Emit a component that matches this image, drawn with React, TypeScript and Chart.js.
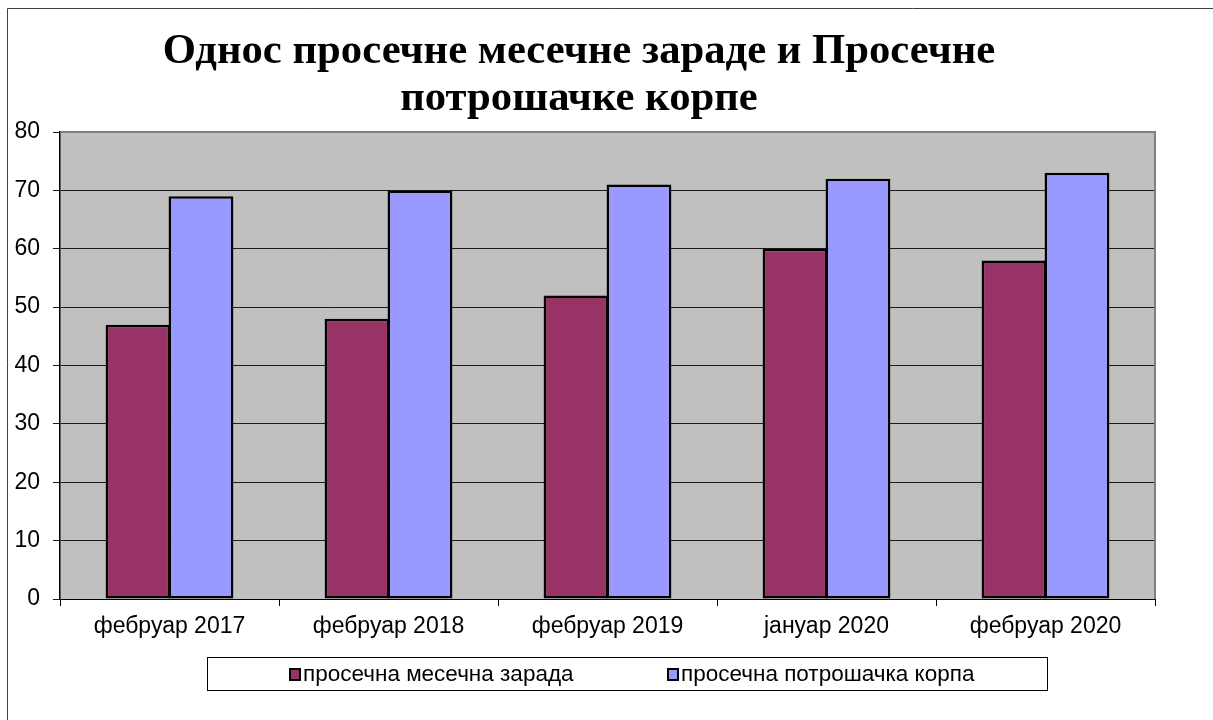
import React, { useEffect, useRef } from "react";
import { Chart, registerables } from "chart.js";

Chart.register(...registerables);

const categories = ["фебруар 2017", "фебруар 2018", "фебруар 2019", "јануар 2020", "фебруар 2020"];
const salary = [47, 48, 52, 60, 58];
const basket = [69, 70, 71, 72, 73];
const seriesLabels = ["просечна месечна зарада", "просечна потрошачка корпа"];
const titleLines = ["Однос просечне месечне зараде и Просечне", "потрошачке корпе"];
const yTicks = [0, 10, 20, 30, 40, 50, 60, 70, 80];

const FONT = "'Liberation Sans', Arial, sans-serif";

const decorPlugin = {
  id: "decor",
  beforeDraw(chart: any) {
    const { ctx, chartArea: a } = chart;
    ctx.save();
    ctx.fillStyle = "#ffffff";
    ctx.fillRect(0, 0, chart.width, chart.height);
    ctx.strokeStyle = "#404040";
    ctx.lineWidth = 1;
    ctx.beginPath();
    ctx.moveTo(7.5, chart.height + 5);
    ctx.lineTo(7.5, 8.5);
    ctx.lineTo(chart.width + 5, 8.5);
    ctx.stroke();
    ctx.fillStyle = "#C0C0C0";
    ctx.fillRect(a.left, a.top, a.right - a.left, a.bottom - a.top);
    ctx.restore();
  },
  afterDatasetsDraw(chart: any) {
    const { ctx, chartArea: a } = chart;
    ctx.save();
    ctx.strokeStyle = "#808080";
    ctx.lineWidth = 2;
    ctx.beginPath();
    ctx.moveTo(a.left, a.top);
    ctx.lineTo(a.right, a.top);
    ctx.lineTo(a.right, a.bottom);
    ctx.stroke();
    ctx.restore();
  },
  afterDraw(chart: any) {
    const { ctx } = chart;
    ctx.save();
    ctx.fillStyle = "#000";
    ctx.font = "bold 42.7px 'Liberation Serif', 'Times New Roman', serif";
    ctx.textAlign = "center";
    ctx.textBaseline = "alphabetic";
    ctx.fillText(titleLines[0], 579, 63);
    ctx.fillText(titleLines[1], 579, 110);
    const lx = 207, ly = 657, lw = 840, lh = 33;
    ctx.strokeStyle = "#000";
    ctx.lineWidth = 1;
    ctx.strokeRect(lx + 0.5, ly + 0.5, lw, lh);
    ctx.font = "22.5px " + FONT;
    ctx.textAlign = "left";
    ctx.textBaseline = "middle";
    const items = [
      { x: 290, color: "#993366", label: chart.data.datasets[0].label },
      { x: 668, color: "#9999FF", label: chart.data.datasets[1].label },
    ];
    const cy = ly + lh / 2 + 1;
    items.forEach((it) => {
      ctx.fillStyle = it.color;
      ctx.fillRect(it.x, cy - 5.5, 10, 11);
      ctx.strokeStyle = "#000";
      ctx.lineWidth = 2;
      ctx.strokeRect(it.x, cy - 5.5, 10, 11);
      ctx.fillStyle = "#000";
      ctx.fillText(it.label, it.x + 13, cy);
    });
    ctx.restore();
  },
};

export default function App() {
  const ref = useRef<HTMLCanvasElement>(null);
  useEffect(() => {
    if (!ref.current) return;
    const chart = new Chart(ref.current, {
      type: "bar",
      data: {
        labels: categories,
        datasets: [
          {
            label: seriesLabels[0],
            data: salary,
            backgroundColor: "#993366",
            borderColor: "#000",
            borderWidth: 2.5,
            borderSkipped: false,
            categoryPercentage: 0.575,
            barPercentage: 1.03,
          },
          {
            label: seriesLabels[1],
            data: basket,
            backgroundColor: "#9999FF",
            borderColor: "#000",
            borderWidth: 2.5,
            borderSkipped: false,
            categoryPercentage: 0.575,
            barPercentage: 1.03,
          },
        ],
      },
      options: {
        animation: false,
        responsive: false,
        maintainAspectRatio: false,
        layout: { padding: { left: 0, right: 58, top: 132, bottom: 70 } },
        plugins: {
          legend: { display: false },
          title: { display: false },
          tooltip: { enabled: false },
        },
        scales: {
          x: {
            offset: true,
            grid: {
              offset: true,
              drawOnChartArea: false,
              drawTicks: true,
              tickLength: 7,
              color: "#000",
              lineWidth: 1,
            },
            border: { display: true, color: "#000", width: 1 },
            ticks: {
              color: "#000",
              padding: 7,
              font: { family: FONT, size: 23 },
              maxRotation: 0,
              autoSkip: false,
            },
            afterFit(scale: any) {
              scale.height = 51;
            },
          },
          y: {
            min: 0,
            max: 80,
            afterBuildTicks(scale: any) {
              scale.ticks = yTicks.map((v) => ({ value: v }));
            },
            grid: {
              color: "#1a1a1a",
              lineWidth: 1,
              tickLength: 7,
            },
            border: { display: true, color: "#000", width: 1.5 },
            ticks: {
              color: "#000",
              padding: 13,
              font: { family: FONT, size: 23 },
            },
            afterFit(scale: any) {
              scale.width = 60;
            },
          },
        },
      },
      plugins: [decorPlugin],
    });
    return () => chart.destroy();
  }, []);
  return (
    <div style={{ position: "fixed", left: 0, top: 0, width: 1213, height: 720 }}>
      <canvas ref={ref} width={1213} height={720} style={{ display: "block" }} />
    </div>
  );
}
